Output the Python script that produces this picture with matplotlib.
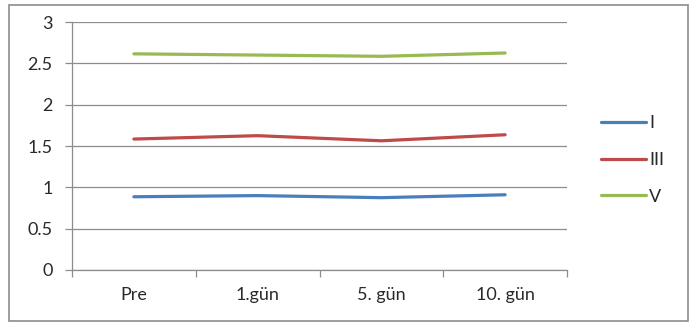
import matplotlib
matplotlib.use("Agg")
import matplotlib.pyplot as plt
from matplotlib.patches import Rectangle

categories = ["Pre", "1.gün", "5. gün", "10. gün"]
series_names = ["I", "III", "V"]
values_I = [0.886, 0.90, 0.875, 0.91]
values_III = [1.584, 1.625, 1.563, 1.636]
values_V = [2.615, 2.60, 2.585, 2.625]
colors = ["#4A7EBB", "#BE4B48", "#98B954"]

plt.rcParams["font.family"] = ["Lato", "DejaVu Sans"]
fs = 13

fig = plt.figure(figsize=(6.96, 3.24), dpi=100)
ax = fig.add_axes([72 / 696, 1 - 270 / 324, 495 / 696, 248 / 324])

x = list(range(len(categories)))
for vals, name, c in zip([values_I, values_III, values_V], series_names, colors):
    ax.plot(x, vals, color=c, lw=2.3, label=name, solid_capstyle="round")

ax.set_xlim(-0.5, len(categories) - 0.5)
ax.set_ylim(0, 3)
ax.set_yticks([0, 0.5, 1, 1.5, 2, 2.5, 3])
ax.set_yticklabels(["0", "0.5", "1", "1.5", "2", "2.5", "3"])
ax.yaxis.grid(True, color="#8C8C8C", lw=0.9)
ax.set_axisbelow(True)

ax.set_xticks(x)
ax.set_xticklabels(categories)
ax.set_xticks([i - 0.5 for i in range(len(categories) + 1)], minor=True)
ax.tick_params(axis="x", which="major", length=0, pad=12, labelsize=fs, colors="#2A2A2A")
ax.tick_params(axis="x", which="minor", length=5, width=0.9, color="#8C8C8C")
ax.tick_params(axis="y", length=5, width=0.9, color="#8C8C8C", pad=9, labelsize=fs, labelcolor="#2A2A2A")

for s in ["top", "right"]:
    ax.spines[s].set_visible(False)
for s in ["left", "bottom"]:
    ax.spines[s].set_color("#8C8C8C")
    ax.spines[s].set_linewidth(0.9)

leg = fig.legend(loc="center left", bbox_to_anchor=(585 / 696, 1 - 160 / 324), frameon=False,
                 handlelength=2.5, handletextpad=0.15, labelspacing=1.15, fontsize=fs)
for t in leg.get_texts():
    t.set_color("#2A2A2A")

fig.patches.append(Rectangle((9 / 696, 3 / 324), 679 / 696, 316 / 324, transform=fig.transFigure,
                             fill=False, edgecolor="#8C8C8C", lw=1.2))

fig.savefig("out.png", dpi=100)
